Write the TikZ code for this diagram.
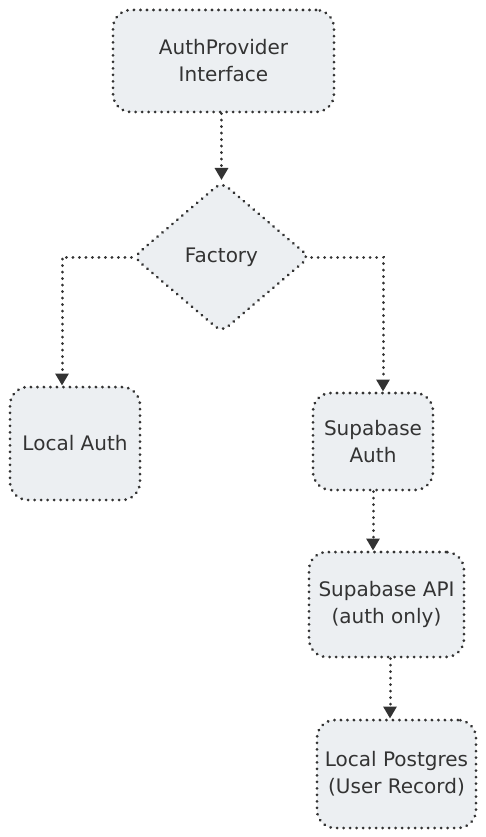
\documentclass[tikz,border=0pt]{standalone}
\usepackage{fontspec}
\setmainfont{DejaVu Sans}
\usetikzlibrary{shapes.geometric,arrows.meta}
\definecolor{boxfill}{HTML}{ECEFF2}
\definecolor{ink}{HTML}{333333}
\tikzset{
  dotline/.style={draw=ink, line width=3pt, line cap=round, dash pattern=on 0.1pt off 6.4pt},
  box/.style={dotline, fill=boxfill, rounded corners=18pt, align=center, inner sep=0pt, font=\fontsize{20}{27}\selectfont, text=ink},
  conn/.style={dotline, -{Triangle[length=12pt,width=13pt,fill=ink]}},
}
\begin{document}
\begin{tikzpicture}[x=1pt,y=-1pt]
\useasboundingbox (0,0) rectangle (485,837);
\node[box, minimum width=221pt, minimum height=102pt] (api) at (223.5,61) {AuthProvider\\Interface};
\node[dotline, fill=boxfill, diamond, aspect=1.172, minimum width=177pt, minimum height=151pt, inner sep=0pt, rounded corners=8pt, font=\fontsize{20}{27}\selectfont, text=ink] (fac) at (221.5,257) {Factory};
\node[box, minimum width=130pt, minimum height=113pt] (local) at (75,443.5) {Local Auth};
\node[box, minimum width=120pt, minimum height=97pt] (supa) at (373,441.5) {Supabase\\Auth};
\node[box, minimum width=155pt, minimum height=105pt] (sapi) at (386.5,604.5) {Supabase API\\(auth only)};
\node[box, minimum width=159pt, minimum height=108pt] (pg) at (396.5,774) {Local Postgres\\(User Record)};
\draw[conn] (api.south -| fac.north) -- (fac.north);
\draw[conn] (fac.west) -| ([xshift=-13pt]local.north);
\draw[conn] (fac.east) -| ([xshift=10pt]supa.north);
\draw[conn] (supa.south) -- (supa.south |- sapi.north);
\draw[conn] (sapi.south -| pg.north) ++(-6.5pt,0) coordinate (c5) -- (c5 |- pg.north);
\end{tikzpicture}
\end{document}
